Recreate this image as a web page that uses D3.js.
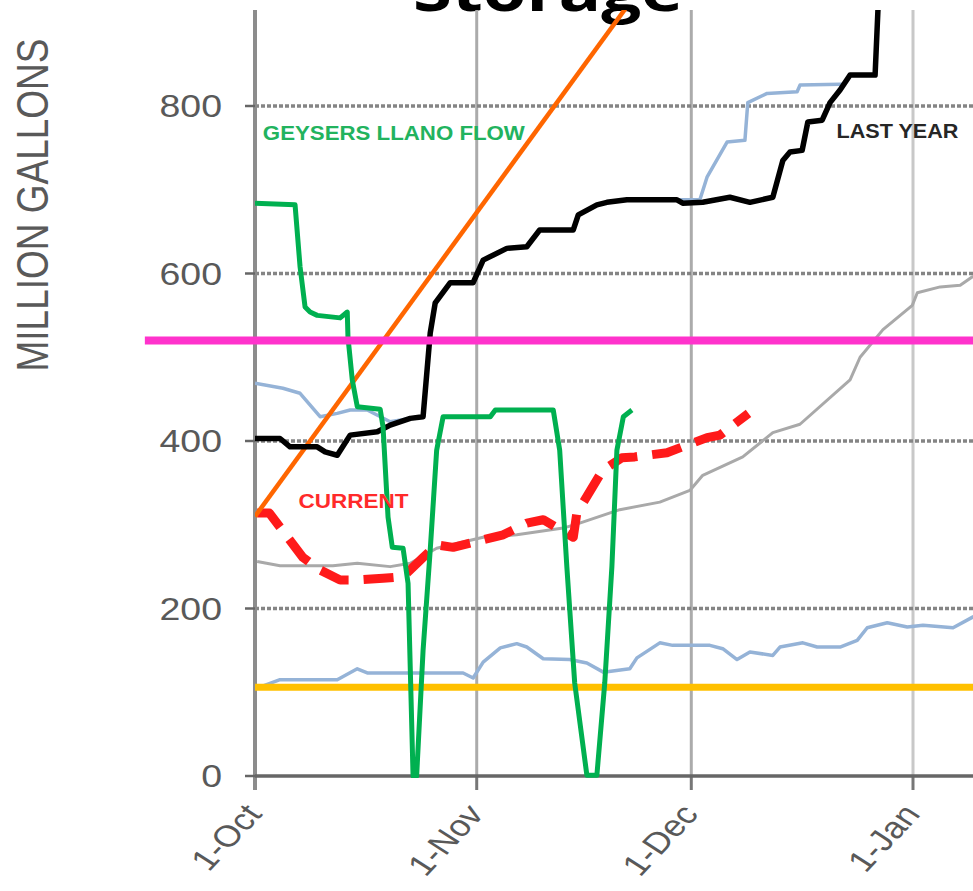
<!DOCTYPE html>
<html><head><meta charset="utf-8">
<script src="https://cdn.jsdelivr.net/npm/d3@7"></script>
<style>
html,body{margin:0;padding:0;background:#fff;}
svg{display:block;}
</style></head>
<body>
<svg id="chart" width="973" height="891"></svg>
<script>
// ---- DATA (day offset from 1-Oct, million gallons) ----
const monthTicks = [0, 31, 61, 92];               // 1-Oct, 1-Nov, 1-Dec, 1-Jan
const yTicks = [0, 200, 400, 600, 800];
const title = "Storage";
const yLabel = "MILLION GALLONS";

const targetLine = [[0, 310], [61, 1024]];         // orange straight line
const upperLimit = [[-15.4, 520], [110, 520]];     // magenta
const lowerLimit = [[0, 106], [110, 106]];         // gold

const geysersFlow = [[0,684],[5.6,682],[6.3,608],[7.0,560],[7.7,554],[8.7,550],[11.9,547],[12.9,554],[13.0,524],[13.6,473],[14.3,441],[17.5,438],[17.9,417],[18.6,309],[19.2,273],[20.7,272],[21.4,230],[22.1,0],[22.6,0],[23.5,150],[24.5,270],[25.4,389],[26.3,429],[32.9,429],[33.6,437],[40.3,437],[41.7,437],[42.6,389],[43.6,250],[44.7,111],[46.4,1],[47.8,1],[48.9,111],[49.9,250],[50.6,389],[51.5,429],[52.7,437]];

const lastYear = [[0,403],[3.5,403],[4.9,393],[8.7,393],[9.8,387],[11.5,383],[13.3,407],[17.1,411],[18.9,419],[21.7,427],[23.5,429],[24.5,529],[25.2,565],[27.3,589],[30.5,589],[31.9,616],[35.2,630],[38.0,632],[39.8,652],[44.5,652],[45.2,670],[47.8,682],[49.2,685],[52.0,688],[59.0,688],[59.8,684],[62.6,685],[66.4,691],[69.2,685],[72.4,691],[73.8,735],[74.8,745],[76.5,747],[77.3,781],[79.3,783],[80.4,804],[81.8,819],[83.2,837],[86.7,837],[87.1,915],[87.6,1000]];

const blueUpper = [[0,469],[3.9,463],[6.3,457],[9.1,429],[11.5,433],[13.3,437],[15.7,437],[18.9,423],[21.7,427],[23.5,429],[24.5,529],[25.2,565],[27.3,589],[30.5,589],[31.9,616],[35.2,630],[38.0,632],[39.8,652],[44.5,652],[45.2,670],[47.8,682],[49.2,685],[52.0,688],[59.0,688],[62.2,688],[63.2,715],[66.0,757],[68.5,759],[68.9,804],[71.6,815],[75.8,817],[76.2,825],[81.8,826],[82.6,826]];

const blueLower = [[0.3,105],[3.5,115],[8.1,115],[11.5,115],[14.3,128],[15.7,123],[22.6,123],[29.1,123],[30.5,117],[31.9,136],[34.3,153],[36.6,158],[38.0,154],[40.3,140],[44.0,139],[46.4,135],[48.7,124],[52.4,128],[53.4,141],[56.6,159],[58.4,156],[63.6,156],[65.4,152],[67.4,139],[69.2,148],[72.4,144],[73.4,154],[76.6,159],[78.6,154],[81.8,154],[84.2,162],[85.6,177],[88.4,183],[91.2,178],[93.4,180],[97.6,177],[100.4,190],[102,195]];

const grayAvg = [[0.3,256],[3.5,251],[10.9,251],[14.3,254],[18.9,250],[21.7,254],[25.4,272],[31.9,285],[36.6,288],[43.1,296],[45.4,302],[51.0,318],[56.6,327],[60.8,341],[62.6,359],[68.2,381],[72.4,410],[76.2,420],[83.2,473],[84.6,500],[87.8,533],[91.9,562],[92.6,577],[95.8,584],[98.6,586],[100.3,596],[102,600]];

const current = [[0.3,314],[2.0,314],[6.7,261],[9.1,246],[11.9,234],[14.3,234],[17.9,236],[20.7,238],[23.5,261],[25.4,276],[27.7,273],[31.9,282],[34.7,288],[38.0,302],[40.3,306],[43.5,290],[44.5,285],[45.0,314],[48.6,365],[51.3,380],[53.1,381],[57.6,386],[63.2,404],[65.0,407],[69.0,433]];

const annotations = [
  {text: "GEYSERS LLANO FLOW", d: 1.1, v: 760, len: 262, color: "#22b35e"},
  {text: "LAST YEAR", d: 81.3, v: 762, len: 122, color: "#262626"},
  {text: "CURRENT", d: 6.1, v: 320, len: 110, color: "#ff2a2a"}
];

// ---- CHART ----
const W = 973, H = 891;
const base = Date.UTC(2013, 9, 1);
const toDate = d => new Date(base + d * 864e5);
const x = d3.scaleUtc().domain([toDate(0), toDate(92)]).range([255, 913]);
const y = d3.scaleLinear().domain([0, 800]).range([776, 106]);
const SX = 1.21;           // horizontal stretch of the original picture
const plotTop = 10;

const svg = d3.select("#chart");
svg.append("defs").append("clipPath").attr("id", "plot")
  .append("rect").attr("x", x(toDate(0))).attr("y", plotTop)
  .attr("width", W - x(toDate(0)) + 10).attr("height", y(0) - plotTop + 2);

// title
svg.append("text").attr("x", 413).attr("y", 11)
  .attr("textLength", 270).attr("lengthAdjust", "spacingAndGlyphs")
  .attr("font-family", "'Open Sans', 'DejaVu Sans', sans-serif")
  .attr("font-weight", 700).attr("font-size", 58).attr("fill", "#000")
  .text(title);

// vertical grid
const g = svg.append("g");
g.selectAll(".vg").data(monthTicks.slice(1)).join("line")
  .attr("x1", d => x(toDate(d))).attr("x2", d => x(toDate(d)))
  .attr("y1", plotTop).attr("y2", y(0))
  .attr("stroke", (d, i) => i === 2 ? "#c8c8c8" : "#ababab").attr("stroke-width", 3);
// x tick marks
g.selectAll(".xt").data(monthTicks).join("line")
  .attr("x1", d => x(toDate(d))).attr("x2", d => x(toDate(d)))
  .attr("y1", y(0)).attr("y2", y(0) + 14)
  .attr("stroke", "#777").attr("stroke-width", 3);

// horizontal dotted grid
g.selectAll(".hg").data(yTicks.slice(1)).join("line")
  .attr("x1", x(toDate(0))).attr("x2", W)
  .attr("y1", d => y(d)).attr("y2", d => y(d))
  .attr("stroke", "#858585").attr("stroke-width", 3.5).attr("stroke-dasharray", "4,2");

// y axis line + ticks
g.append("line").attr("x1", x(toDate(0))).attr("x2", x(toDate(0)))
  .attr("y1", plotTop).attr("y2", y(0) + 14)
  .attr("stroke", "#8c8c8c").attr("stroke-width", 4);
g.selectAll(".yt").data(yTicks).join("line")
  .attr("x1", x(toDate(0)) - 10).attr("x2", x(toDate(0)))
  .attr("y1", d => y(d)).attr("y2", d => y(d))
  .attr("stroke", "#666").attr("stroke-width", 2.5);
// zero axis
g.append("line").attr("x1", x(toDate(0))).attr("x2", W)
  .attr("y1", y(0)).attr("y2", y(0))
  .attr("stroke", "#666").attr("stroke-width", 3.5);

// y tick labels
g.selectAll(".yl").data(yTicks).join("text")
  .attr("transform", d => `translate(222,${y(d)}) scale(${SX},1)`)
  .attr("text-anchor", "end").attr("dy", "0.36em")
  .attr("font-family", "'Liberation Sans', Arial, sans-serif").attr("font-size", 31)
  .attr("fill", "#595959").text(d => d3.format("d")(d));

// x tick labels
const fmt = d3.utcFormat("%-d-%b");
g.selectAll(".xl").data(monthTicks).join("text")
  .attr("transform", d => `translate(${x(toDate(d)) - 2},${y(0) + 32}) scale(${SX},1) rotate(-52)`)
  .attr("text-anchor", "end").attr("dy", "0.36em")
  .attr("font-family", "'Liberation Sans', Arial, sans-serif").attr("font-size", 30)
  .attr("fill", "#595959").text(d => fmt(toDate(d)));

// y label
svg.append("text").attr("transform", `translate(32,205) scale(${SX},1) rotate(-90)`)
  .attr("text-anchor", "middle").attr("dy", "0.36em")
  .attr("font-family", "'Liberation Sans', Arial, sans-serif").attr("font-size", 37)
  .attr("fill", "#595959").text(yLabel);

// lines
const line = d3.line().x(p => x(toDate(p[0]))).y(p => y(p[1]));
const plot = svg.append("g").attr("clip-path", "url(#plot)");
function draw(parent, data, color, width, extra) {
  const p = parent.append("path").datum(data).attr("d", line)
    .attr("fill", "none").attr("stroke", color).attr("stroke-width", width)
    .attr("stroke-linejoin", "round");
  if (extra) extra(p);
  return p;
}
draw(plot, grayAvg, "#a9a9a9", 3);
draw(plot, blueLower, "#95b3d7", 3.5);
draw(plot, blueUpper, "#95b3d7", 3.5);
draw(plot, lowerLimit, "#ffc000", 7);
draw(plot, current, "#ff1a1a", 9, p => p.attr("stroke-dasharray", "30,15"));
draw(plot, targetLine, "#ff6600", 4.5);
draw(plot, lastYear, "#000", 5.5);
draw(plot, geysersFlow, "#00b050", 5);
// magenta extends left of the axis
draw(svg, upperLimit, "#ff33cc", 8);

// annotations
svg.selectAll(".ann").data(annotations).join("text")
  .attr("x", d => x(toDate(d.d))).attr("y", d => y(d.v))
  .attr("textLength", d => d.len).attr("lengthAdjust", "spacingAndGlyphs")
  .attr("font-family", "'Liberation Sans', Arial, sans-serif").attr("font-weight", 700)
  .attr("font-size", 21).attr("fill", d => d.color).text(d => d.text);
</script>
</body></html>
